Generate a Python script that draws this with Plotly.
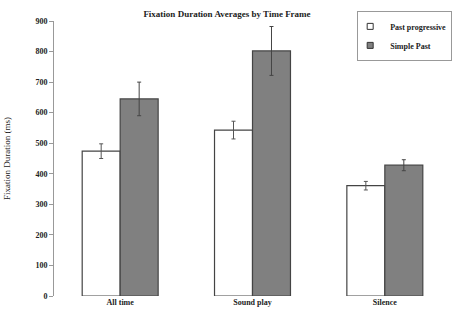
import plotly.graph_objects as go

categories = ["All time", "Sound play", "Silence"]
past_progressive = [474, 543, 361]
past_progressive_err = [24, 29, 14]
simple_past = [645, 802, 428]
simple_past_err = [55, 80, 18]

font_family = "Liberation Serif"
series_names = ["Past progressive", "Simple Past"]
series_colors = ["white", "#808080"]

fig = go.Figure()
fig.add_trace(go.Bar(
    x=categories, y=past_progressive, name=series_names[0], showlegend=False,
    marker=dict(color=series_colors[0], line=dict(color="#444444", width=1.2)),
    error_y=dict(type="data", array=past_progressive_err, color="#555555", thickness=1, width=2),
))
fig.add_trace(go.Bar(
    x=categories, y=simple_past, name=series_names[1], showlegend=False,
    marker=dict(color=series_colors[1], line=dict(color="#444444", width=1.2)),
    error_y=dict(type="data", array=simple_past_err, color="#444444", thickness=1, width=2),
))
# legend entries with small square symbols
for name, col in zip(series_names, series_colors):
    fig.add_trace(go.Scatter(
        x=[None], y=[None], mode="markers", name="<b>" + name + "</b>",
        marker=dict(symbol="square", size=6, color=col, line=dict(color="#333333", width=1)),
    ))

fig.update_layout(
    width=454, height=311,
    margin=dict(l=54, r=3, t=21, b=15, autoexpand=False),
    paper_bgcolor="white", plot_bgcolor="white",
    barmode="group", bargap=0.426, bargroupgap=0,
    title=dict(text="<b>Fixation Duration Averages by Time Frame</b>", x=0.5, xanchor="center",
               xref="container", y=0.955, yanchor="middle",
               font=dict(family=font_family, size=9, color="#222222")),
    font=dict(family=font_family, size=8, color="#222222"),
    showlegend=True,
    legend=dict(xref="container", yref="container", x=0.996, y=0.965, xanchor="right", yanchor="top",
                bordercolor="#999999", borderwidth=1, bgcolor="white",
                font=dict(family=font_family, size=8, color="#222222"),
                itemwidth=30, tracegroupgap=0, indentation=-8),
    xaxis=dict(showline=False, ticks="", showgrid=False,
               tickfont=dict(family=font_family, size=8, color="#222222"),
               ticklabelstandoff=0),
    yaxis=dict(range=[0, 900], dtick=100, showline=True, linecolor="#999999", linewidth=1,
               ticks="outside", ticklen=4, tickcolor="#999999", showgrid=False, zeroline=False,
               tickfont=dict(family=font_family, size=8, color="#222222"),
               title=dict(text="Fixation Duration (ms)", standoff=23,
                          font=dict(family=font_family, size=9, color="#222222"))),
)
fig.for_each_xaxis(lambda a: a.update(tickprefix="<b>", ticksuffix="</b>"))
fig.for_each_yaxis(lambda a: a.update(tickprefix="<b>", ticksuffix="</b>"))

fig.write_html("out.html", config={"displayModeBar": False},
               post_script="document.body.style.margin='0';document.body.style.overflow='hidden';")
